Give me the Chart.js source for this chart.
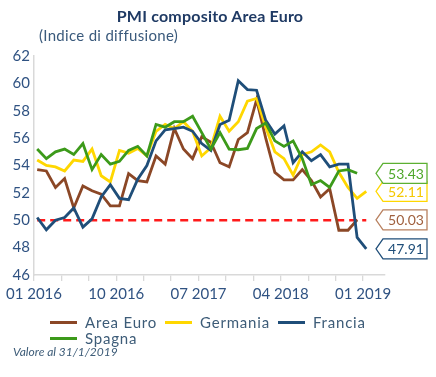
<!DOCTYPE html>
<html>
<head>
<meta charset="utf-8">
<script src="https://cdn.jsdelivr.net/npm/chart.js@4.4.1/dist/chart.umd.min.js"></script>
<style>
html,body{margin:0;padding:0;background:#fff;}
#wrap{position:relative;width:436px;height:377px;overflow:hidden;font-family:Lato,"Open Sans",sans-serif;}
#c{position:absolute;left:0;top:0;}
#titolo{position:absolute;left:0;width:420px;top:7px;text-align:center;font-weight:bold;font-size:16px;line-height:18px;color:#1f3a64;letter-spacing:0.2px;}
#sottotitolo{position:absolute;left:39px;top:26px;font-size:15px;line-height:18px;color:#3a5a7c;letter-spacing:0.3px;}
#legenda{position:absolute;left:50px;top:314px;width:340px;display:flex;flex-wrap:wrap;}
.voce{display:flex;align-items:center;height:16px;margin-right:8px;}
.linea{display:inline-block;width:27px;height:3px;margin-right:8px;}
.testo{font-size:15px;line-height:16px;letter-spacing:0.8px;color:#3d5c78;}
#nota{position:absolute;left:13px;top:345px;font-style:italic;font-size:12px;line-height:14px;color:#3d5c78;}
</style>
</head>
<body>
<div id="wrap">
  <canvas id="c" width="436" height="377"></canvas>
  <div id="titolo">PMI composito Area Euro</div>
  <div id="sottotitolo">(Indice di diffusione)</div>
  <div id="legenda"></div>
  <div id="nota">Valore al 31/1/2019</div>
</div>
<script>
// ---- Data ----
const mesi = ['01 2016','02 2016','03 2016','04 2016','05 2016','06 2016','07 2016','08 2016','09 2016','10 2016','11 2016','12 2016',
              '01 2017','02 2017','03 2017','04 2017','05 2017','06 2017','07 2017','08 2017','09 2017','10 2017','11 2017','12 2017',
              '01 2018','02 2018','03 2018','04 2018','05 2018','06 2018','07 2018','08 2018','09 2018','10 2018','11 2018','12 2018',
              '01 2019'];
const etichetteAsseX = ['01 2016','10 2016','07 2017','04 2018','01 2019'];
const tickAsseY = [46,48,50,52,54,56,58,60,62];

const areaEuro = [53.7,53.6,52.4,53.05,50.9,52.5,52.15,51.9,51.05,51.05,53.4,52.9,52.8,54.7,54.1,56.7,55.2,54.5,56.1,55.7,54.2,53.9,55.9,56.4,58.8,56.0,53.5,52.95,52.95,53.7,52.9,51.7,52.3,49.27,49.27,50.03,null];
const germania = [54.4,54.0,53.9,53.6,54.4,54.3,55.2,53.25,52.8,55.1,54.9,55.25,54.7,56.5,57.0,56.7,57.2,56.5,54.7,55.3,57.6,56.5,57.2,58.7,58.9,56.8,55.0,54.5,53.3,54.8,55.0,55.5,55.0,53.5,52.4,51.6,52.11];
const francia = [50.2,49.3,50.0,50.2,50.9,49.5,50.1,51.7,52.6,51.6,51.5,53.0,54.0,55.8,56.6,56.7,56.8,56.5,55.6,55.1,57.0,57.3,60.2,59.55,59.5,57.3,56.3,56.9,54.2,55.0,54.35,54.8,53.9,54.1,54.1,48.75,47.91];
const spagna = [55.2,54.5,55.0,55.2,54.8,55.6,53.7,54.8,54.1,54.3,55.1,55.4,54.7,57.0,56.8,57.2,57.2,57.6,56.4,55.2,56.4,55.2,55.15,55.25,56.7,57.1,55.8,55.4,55.8,54.5,52.6,52.9,52.4,53.6,53.7,53.43,null];
const nomiSerie = ['Area Euro','Germania','Francia','Spagna'];
const sogliaValore = 50;

// ---- Styles ----
const coloriLinea = ['#8b4726','#ffd700','#1f4e79','#3c9a1a'];
const coloriBordoEtichetta = ['#b8805f','#ffd700','#1f4e79','#5cb032'];
const coloriTestoEtichetta = ['#a0603e','#f5c800','#1f4e79','#4ea72a'];
const ordineDisegno = [3,2,1,0];
const spostamentoMese = 0.35;

const valoriSerie = [areaEuro, germania, francia, spagna];
const punti = arr => arr.map((v,i) => ({x: i + spostamentoMese, y: v})).filter(p => p.y !== null);

const datasets = valoriSerie.map((vals, k) => ({
  label: nomiSerie[k],
  data: punti(vals),
  borderColor: coloriLinea[k],
  backgroundColor: coloriLinea[k],
  borderWidth: 2.8,
  pointRadius: 0,
  tension: 0,
  fill: false,
  order: ordineDisegno[k]
}));
datasets.push({
  label: 'soglia',
  data: [{x: spostamentoMese, y: sogliaValore}, {x: mesi.length - 1 + spostamentoMese, y: sogliaValore}],
  borderColor: '#ff1a1a',
  borderWidth: 2.3,
  borderDash: [8,5],
  pointRadius: 0,
  fill: false,
  order: 10
});

const etichetteFinali = {
  id: 'etichetteFinali',
  afterDatasetsDraw(chart) {
    const {ctx, chartArea, scales} = chart;
    const y = scales.y;
    valoriSerie.forEach((vals, k) => {
      const validi = vals.filter(v => v !== null);
      const v = validi[validi.length - 1];
      const yc = y.getPixelForValue(v);
      const tip = chartArea.right - 9;
      const left = tip + 7, right = tip + 51, h = 20;
      ctx.save();
      ctx.beginPath();
      ctx.moveTo(tip, yc);
      ctx.lineTo(left, yc - h/2);
      ctx.lineTo(right, yc - h/2);
      ctx.lineTo(right, yc + h/2);
      ctx.lineTo(left, yc + h/2);
      ctx.closePath();
      ctx.fillStyle = '#ffffff';
      ctx.fill();
      ctx.lineWidth = 1.3;
      ctx.strokeStyle = coloriBordoEtichetta[k];
      ctx.stroke();
      ctx.fillStyle = coloriTestoEtichetta[k];
      ctx.font = '14px Lato';
      ctx.textAlign = 'center';
      ctx.textBaseline = 'middle';
      ctx.fillText(v.toFixed(2), (left + right) / 2 + 1, yc + 1);
      ctx.restore();
    });
  }
};

new Chart(document.getElementById('c'), {
  type: 'line',
  data: {datasets},
  plugins: [etichetteFinali],
  options: {
    responsive: false,
    animation: false,
    devicePixelRatio: 1,
    layout: {padding: {left: 0, right: 51, top: 56, bottom: 72}},
    plugins: {legend: {display: false}, title: {display: false}, tooltip: {enabled: false}},
    scales: {
      x: {
        type: 'linear',
        min: 0,
        max: 38.4,
        afterFit: s => { s.height = 30; },
        grid: {drawOnChartArea: false, drawTicks: true, tickLength: 6, color: '#d9d9d9', lineWidth: 1.3},
        border: {display: true, color: '#d9d9d9', width: 1.5},
        ticks: {
          stepSize: 3,
          autoSkip: false,
          includeBounds: false,
          maxRotation: 0,
          padding: 4,
          color: '#2f5282',
          font: {family: 'Lato', size: 15},
          callback: v => (v % 9 === 0 && etichetteAsseX[v / 9] !== undefined) ? etichetteAsseX[v / 9] : ''
        }
      },
      y: {
        min: tickAsseY[0],
        max: tickAsseY[tickAsseY.length - 1],
        afterFit: s => { s.width = 34; },
        grid: {display: true, drawOnChartArea: false, drawTicks: false},
        border: {display: true, color: '#d9d9d9', width: 1.5},
        ticks: {
          stepSize: 2,
          padding: 4,
          color: '#2f5282',
          font: {family: 'Lato', size: 15}
        }
      }
    }
  }
});

// HTML legend
const leg = document.getElementById('legenda');
nomiSerie.forEach((n, k) => {
  const d = document.createElement('div');
  d.className = 'voce';
  d.innerHTML = '<span class="linea" style="background:' + coloriLinea[k] + '"></span><span class="testo">' + n + '</span>';
  leg.appendChild(d);
});
</script>
</body>
</html>
